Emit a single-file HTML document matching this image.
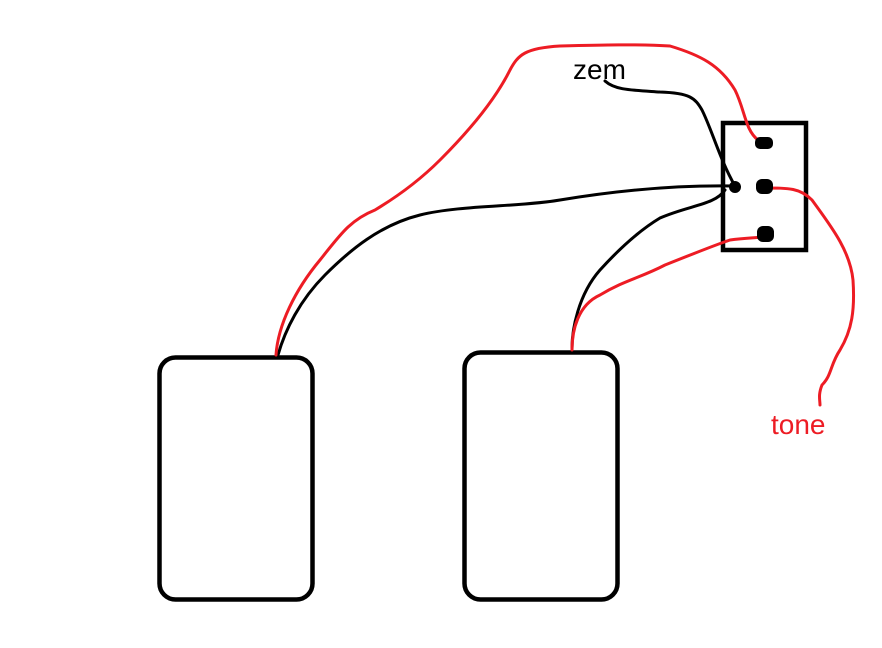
<!DOCTYPE html>
<html><head><style>html,body{margin:0;padding:0;background:#fff}svg{display:block}</style></head>
<body>
<svg width="882" height="648" viewBox="0 0 882 648" xmlns="http://www.w3.org/2000/svg">
<rect x="0" y="0" width="882" height="648" fill="#fff"/>
<g fill="none" stroke="#000" stroke-width="4.5">
<rect x="159.5" y="357.5" width="153" height="242" rx="16"/>
<rect x="464.5" y="352.5" width="153" height="247" rx="16"/>
<rect x="723" y="123" width="83" height="127"/>
</g>
<g fill="none" stroke="#000" stroke-width="3" stroke-linecap="round" stroke-linejoin="round">
<path d="M278 355 C285 330 300 300 325 275 C350 250 380 225 420 215 C460 205 520 207 560 200 C620 190 680 185 735 186"/>
<path d="M605 81 C615 90 630 90 660 92 C690 93 695 98 702 110 C712 130 720 160 735 186"/>
<path d="M572 348 C572 330 578 295 600 270 C620 248 640 230 660 218 C690 205 715 205 725 190"/>
</g>
<g fill="none" stroke="#ed1c24" stroke-width="3" stroke-linecap="round" stroke-linejoin="round">
<path d="M276 355 C278 325 295 290 320 260 C340 235 350 220 375 210 C400 195 420 180 440 160 C470 130 495 100 510 70 C518 55 525 48 560 46 C600 45 640 44 670 46 C700 55 720 65 735 90 C745 110 745 130 758 140"/>
<path d="M763 188 C790 188 800 188 812 200 C830 225 850 250 853 280 C855 310 852 330 840 350 C830 365 832 375 822 385 C818 395 820 400 820 405"/>
<path d="M572 350 C572 330 578 305 600 295 C625 280 640 278 665 265 C690 255 715 245 730 240 C745 238 755 238 763 237"/>
</g>
<g fill="#000">
<rect x="755" y="137" width="18" height="12" rx="5"/>
<rect x="756" y="179" width="17" height="15" rx="6"/>
<rect x="757" y="226" width="17" height="16" rx="6"/>
<circle cx="735" cy="187" r="6"/>
</g>
<text x="573" y="79" font-family="Liberation Sans, sans-serif" font-size="28" fill="#000">zem</text>
<text x="771" y="434" font-family="Liberation Sans, sans-serif" font-size="28" fill="#ed1c24">tone</text>
</svg>
</body></html>
